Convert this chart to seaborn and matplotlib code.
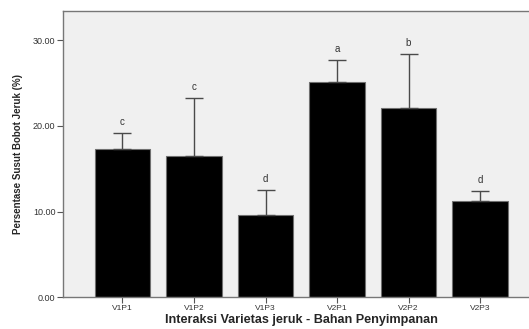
import pandas as pd
import seaborn as sns
import matplotlib.pyplot as plt

# data
perlakuan = ["V1P1", "V1P2", "V1P3", "V2P1", "V2P2", "V2P3"]
susut = [17.27, 16.45, 9.57, 25.15, 22.03, 11.24]
galat = [1.90, 6.75, 2.92, 2.50, 6.30, 1.13]
notasi = ["c", "c", "d", "a", "b", "d"]

df = pd.DataFrame({"perlakuan": perlakuan, "susut": susut})

sns.set_theme(style="white")
plt.rcParams["font.family"] = ["Liberation Sans", "DejaVu Sans"]

fig = plt.figure(figsize=(5.29, 3.29), dpi=100)
ax = fig.add_axes([63 / 529, (329 - 297.3) / 329, (529 - 63) / 529, (297.3 - 11) / 329])
ax.set_facecolor("#f0f0f0")

sns.barplot(data=df, x="perlakuan", y="susut", color="black", width=0.77,
            edgecolor="#707070", linewidth=0.8, errorbar=None, ax=ax)

# one-sided (upper) error bars
ax.errorbar(range(len(susut)), susut, yerr=[[0] * len(galat), galat], fmt="none",
            ecolor="#4a4a4a", elinewidth=1.0, capsize=6.5, capthick=1.0)

for i, (v, e, t) in enumerate(zip(susut, galat, notasi)):
    ax.text(i, v + e + 0.7, t, ha="center", va="bottom", fontsize=7, color="#333333")

ax.set_xlim(-0.832, 5.685)
ax.set_ylim(0, 33.4)
ax.set_yticks([0, 10, 20, 30])
ax.set_yticklabels(["0.00", "10.00", "20.00", "30.00"])
ax.tick_params(axis="both", labelcolor="#333333", length=4, width=0.8,
               color="#555555", direction="out", left=True, bottom=True, pad=1.5)
ax.tick_params(axis="y", labelsize=6.5)
ax.tick_params(axis="x", labelsize=6)

for s in ["left", "bottom", "top"]:
    ax.spines[s].set_color("#777777")
    ax.spines[s].set_linewidth(1.0)
ax.spines["right"].set_visible(False)

ax.set_xlabel("Interaksi Varietas jeruk - Bahan Penyimpanan", fontsize=9.1,
              fontweight="bold")
ax.xaxis.set_label_coords(0.511, -0.06)
ax.set_ylabel("Persentase Susut Bobot Jeruk (%)", fontsize=7, fontweight="bold")
ax.yaxis.set_label_coords(-0.086, 0.5)

fig.savefig("out.png", dpi=100)
